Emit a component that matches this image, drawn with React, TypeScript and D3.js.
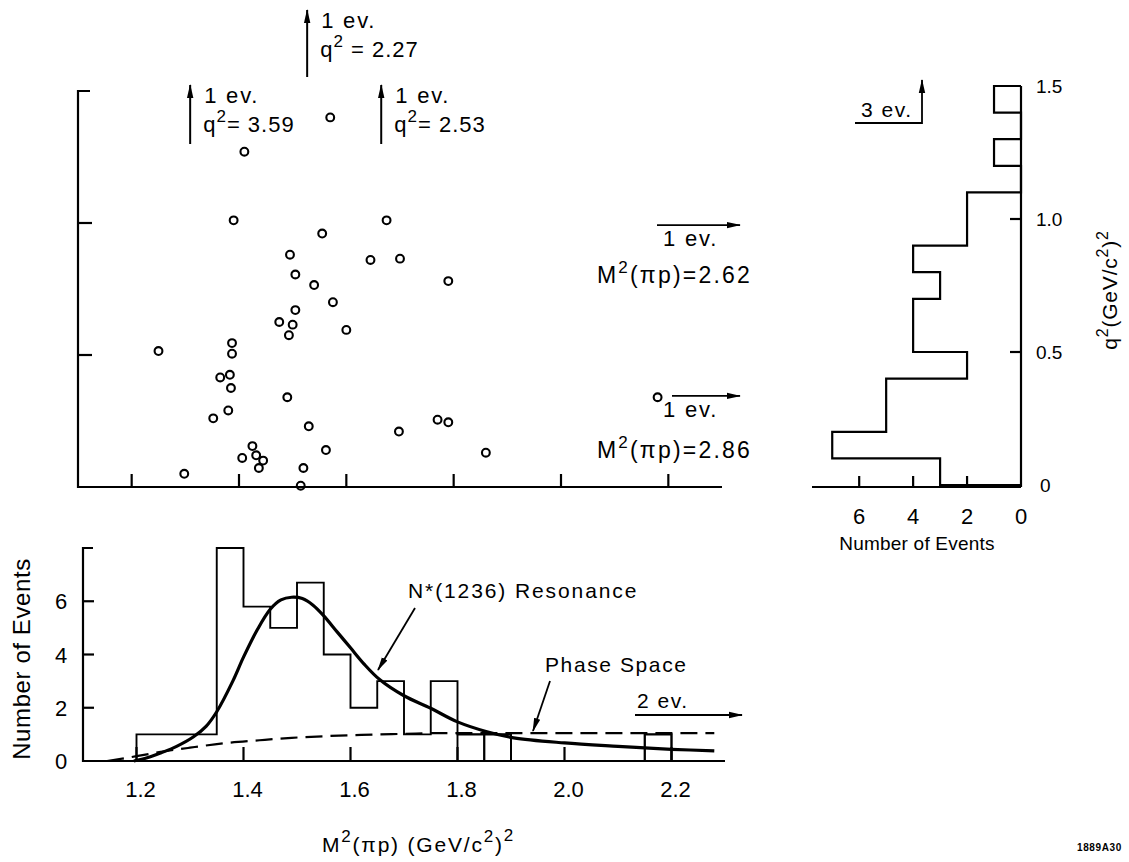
import React from 'react';
import * as d3 from 'd3';

// scatter plot: M^2(pi p) vs q^2, one point per event
const scatterM2 = [1.41, 1.57, 1.39, 1.555, 1.675, 1.495, 1.7, 1.505, 1.645, 1.54, 1.79, 1.575, 1.505, 1.475, 1.5, 1.493, 1.6, 1.25, 1.387, 1.387, 1.383, 1.365, 1.385, 1.49, 1.38, 1.352, 1.53, 1.698, 1.77, 1.79, 1.86, 2.18, 1.425, 1.562, 1.406, 1.432, 1.445, 1.437, 1.52, 1.298, 1.515];
const scatterQ2 = [1.27, 1.4, 1.01, 0.96, 1.01, 0.88, 0.865, 0.805, 0.86, 0.765, 0.78, 0.7, 0.67, 0.625, 0.615, 0.575, 0.595, 0.515, 0.545, 0.505, 0.425, 0.415, 0.375, 0.34, 0.29, 0.26, 0.23, 0.21, 0.255, 0.245, 0.13, 0.34, 0.155, 0.14, 0.11, 0.12, 0.1, 0.072, 0.072, 0.05, 0.005];

// events off the scatter scale (drawn as arrows)
const offTopM2 = [1.309, 1.527, 1.665];
const offTopQ2 = ['3.59', '2.27', '2.53'];
const offRightQ2 = [0.992, 0.345];
const offRightM2 = ['2.62', '2.86'];

// q^2 projection (right histogram)
const q2BinStarts = [0, 0.1, 0.2, 0.3, 0.4, 0.5, 0.6, 0.7, 0.8, 0.9, 1.0, 1.1, 1.2, 1.3, 1.4];
const q2Counts = [3, 7, 5, 5, 2, 4, 4, 3, 4, 2, 2, 0, 1, 0, 1];
const q2Width = 0.1;

// M^2 projection (bottom histogram)
const m2BinStarts = [1.2, 1.25, 1.3, 1.35, 1.4, 1.45, 1.5, 1.55, 1.6, 1.65, 1.7, 1.75, 1.8, 1.85, 1.9, 1.95, 2.0, 2.05, 2.1, 2.15];
const m2Counts = [1, 1, 1, 8, 5.8, 5, 6.7, 4, 2, 3, 1, 3, 1, 1, 0, 0, 0, 0, 0, 1];
const m2Width = 0.05;

// N*(1236) resonance curve
const resM2 = [1.195, 1.22, 1.245, 1.275, 1.306, 1.33, 1.35, 1.38, 1.4, 1.425, 1.45, 1.47, 1.49, 1.51, 1.53, 1.55, 1.575, 1.6, 1.625, 1.655, 1.7, 1.75, 1.8, 1.855, 1.905, 2.0, 2.1, 2.15, 2.2, 2.28];
const resN = [0, 0.12, 0.3, 0.55, 0.9, 1.3, 1.85, 3.0, 3.9, 4.9, 5.7, 6.05, 6.15, 6.1, 5.85, 5.45, 4.85, 4.25, 3.65, 3.05, 2.45, 1.98, 1.47, 1.1, 0.87, 0.68, 0.55, 0.49, 0.44, 0.38];

// phase space curve
const psM2 = [1.145, 1.2, 1.245, 1.3, 1.37, 1.43, 1.49, 1.55, 1.62, 1.7, 1.77, 2.0, 2.28];
const psN = [0, 0.18, 0.34, 0.5, 0.68, 0.78, 0.87, 0.93, 0.98, 1.02, 1.05, 1.05, 1.05];

const m2Ticks = [1.2, 1.4, 1.6, 1.8, 2.0, 2.2];
const m2TickLabels = ['1.2', '1.4', '1.6', '1.8', '2.0', '2.2'];
const q2Ticks = [0.5, 1.0];
const q2Labels = [0, 0.5, 1.0, 1.5];
const nTicks = [2, 4, 6];
const nLabels = [0, 2, 4, 6];

const FONT = "'Liberation Sans', Arial, sans-serif";

export default function App() {
  const xScat = d3.scaleLinear().domain([1.1, 2.3]).range([78, 722]);
  const yScat = d3.scaleLinear().domain([0, 1.5]).range([487, 91]);
  const xHist = d3.scaleLinear().domain([1.1, 2.3]).range([83, 725]);
  const yHist = d3.scaleLinear().domain([0, 8]).range([761, 548]);
  const xProj = d3.scaleLinear().domain([0, 7.75]).range([1021, 812]);
  const yProj = d3.scaleLinear().domain([0, 1.5]).range([485, 86]);

  // step outline of M^2 histogram
  const m2Step: [number, number][] = [];
  m2BinStarts.forEach((s, i) => {
    m2Step.push([s, i === 0 ? 0 : m2Counts[i - 1]]);
    m2Step.push([s, m2Counts[i]]);
  });
  const m2End = m2BinStarts[m2BinStarts.length - 1] + m2Width;
  m2Step.push([m2End, m2Counts[m2Counts.length - 1]]);
  m2Step.push([m2End, 0]);
  const m2Line = d3.line<[number, number]>().x(d => xHist(d[0])).y(d => yHist(d[1]));

  // step outline of q^2 histogram (rotated)
  const q2Step: [number, number][] = [];
  q2BinStarts.forEach((s, i) => {
    q2Step.push([i === 0 ? 0 : q2Counts[i - 1], s]);
    q2Step.push([q2Counts[i], s]);
  });
  const q2End = q2BinStarts[q2BinStarts.length - 1] + q2Width;
  q2Step.push([q2Counts[q2Counts.length - 1], q2End]);
  q2Step.push([0, q2End]);
  const q2Line = d3.line<[number, number]>().x(d => xProj(d[0])).y(d => yProj(d[1]));

  const resPath = d3.line<number>()
    .x((_d, i) => xHist(resM2[i]))
    .y(d => yHist(d))
    .curve(d3.curveCatmullRom.alpha(0.5))(resN);
  const psPath = d3.line<number>()
    .x((_d, i) => xHist(psM2[i]))
    .y(d => yHist(d))
    .curve(d3.curveMonotoneX)(psN);

  const sw = 2.2;

  return (
    <svg width={1129} height={862} style={{ position: 'absolute', left: 0, top: 0, background: '#fff' }} fontFamily={FONT}>
      <defs>
        <marker id="arr" viewBox="0 0 14 8" refX={13} refY={4} markerWidth={14} markerHeight={8} markerUnits="userSpaceOnUse" orient="auto">
          <path d="M0,0.8 L14,4 L0,7.2 Z" fill="#000" />
        </marker>
      </defs>

      {/* ---------- scatter plot ---------- */}
      <g stroke="#000" strokeWidth={sw} fill="none">
        <path d={`M${xScat(1.1) + 12},${yScat(1.5)}H${xScat(1.1)}V${yScat(0)}H${xScat(2.3)}`} />
        {q2Ticks.map(t => (
          <line key={t} x1={xScat(1.1)} x2={xScat(1.1) + 14} y1={yScat(t)} y2={yScat(t)} />
        ))}
        {m2Ticks.map(t => (
          <line key={t} x1={xScat(t)} x2={xScat(t)} y1={yScat(0)} y2={yScat(0) - 13} />
        ))}
      </g>
      <g stroke="#000" strokeWidth={2.1} fill="none">
        {scatterM2.map((m, i) => (
          <circle key={i} cx={xScat(m)} cy={yScat(scatterQ2[i])} r={3.9} />
        ))}
      </g>

      {/* off-scale events above */}
      {offTopM2.map((m, i) => {
        const x = xScat(m);
        const top = i === 1 ? 10 : 85;
        const bottom = i === 1 ? 77 : 144;
        return (
          <g key={i}>
            <line x1={x} x2={x} y1={bottom} y2={top} stroke="#000" strokeWidth={2} markerEnd="url(#arr)" />
            <text x={x + 14} y={top + 18} fontSize={22} letterSpacing={1.8}>1 ev.</text>
            <text x={x + 13} y={top + 47} fontSize={22} letterSpacing={1}>
              q<tspan dy={-10} fontSize={17}>2</tspan>
              <tspan dy={10}>{i === 1 ? ' = ' : '= '}{offTopQ2[i]}</tspan>
            </text>
          </g>
        );
      })}

      {/* off-scale events to the right */}
      {offRightQ2.map((q, i) => {
        const y = yScat(q);
        return (
          <g key={i}>
            <line x1={i === 0 ? 657 : 672} x2={740} y1={y} y2={y} stroke="#000" strokeWidth={1.8} markerEnd="url(#arr)" />
            <text x={663} y={y + 21} fontSize={22} letterSpacing={1.8}>1 ev.</text>
            <text x={597} y={y + (i === 0 ? 58 : 62)} fontSize={23} letterSpacing={2.2}>
              M<tspan dy={-10} fontSize={17}>2</tspan>
              <tspan dy={10}>(πp)={offRightM2[i]}</tspan>
            </text>
          </g>
        );
      })}

      {/* ---------- right q^2 projection ---------- */}
      <g stroke="#000" strokeWidth={sw} fill="none">
        <path d={q2Line(q2Step) || ''} />
        <line x1={xProj(0)} x2={xProj(0)} y1={yProj(0) + 2} y2={yProj(1.5)} />
        <line x1={xProj(7.75)} x2={xProj(0)} y1={yProj(0) + 2} y2={yProj(0) + 2} />
        {nTicks.map(t => (
          <line key={t} x1={xProj(t)} x2={xProj(t)} y1={yProj(0) + 2} y2={yProj(0) - 9} />
        ))}
        {q2Ticks.map(t => (
          <line key={t} x1={xProj(0)} x2={xProj(0) - 11} y1={yProj(t)} y2={yProj(t)} />
        ))}
        <path d="M855,123H922V80" strokeWidth={1.8} markerEnd="url(#arr)" />
      </g>
      <text x={861} y={117} fontSize={21} letterSpacing={1.5}>3 ev.</text>
      {q2Labels.map(v => (
        <text key={v} x={v === 0 ? 1040 : 1036} y={yProj(v) + 7} fontSize={19}>
          {v === 0 ? '0' : v.toFixed(1)}
        </text>
      ))}
      {nLabels.map(v => (
        <text key={v} x={xProj(v)} y={524} fontSize={22} textAnchor="middle">{v}</text>
      ))}
      <text x={917} y={550} fontSize={19} textAnchor="middle" letterSpacing={0.2}>Number of Events</text>
      <text transform="translate(1117,290) rotate(-90)" fontSize={21} textAnchor="middle" letterSpacing={0.8}>
        q<tspan dy={-9} fontSize={16}>2</tspan>
        <tspan dy={9}>(GeV/c</tspan>
        <tspan dy={-9} fontSize={16}>2</tspan>
        <tspan dy={9}>)</tspan>
        <tspan dy={-9} fontSize={16}>2</tspan>
      </text>

      {/* ---------- bottom M^2 projection ---------- */}
      <g stroke="#000" strokeWidth={sw} fill="none">
        <path d={`M${xHist(1.1) + 10},${yHist(8)}H${xHist(1.1)}V${yHist(0)}H${xHist(2.3)}`} />
        {nTicks.map(t => (
          <line key={t} x1={xHist(1.1)} x2={xHist(1.1) + 11} y1={yHist(t)} y2={yHist(t)} />
        ))}
        {m2Ticks.map(t => (
          <line key={t} x1={xHist(t)} x2={xHist(t)} y1={yHist(0)} y2={yHist(0) - 14} />
        ))}
        <path d={m2Line(m2Step) || ''} strokeWidth={1.9} />
        {m2BinStarts.map((s, i) =>
          s >= 1.795 && m2Counts[i] > 0 ? (
            <rect key={s} x={xHist(s)} y={yHist(m2Counts[i])} width={xHist(s + m2Width) - xHist(s)} height={yHist(0) - yHist(m2Counts[i])} strokeWidth={1.9} />
          ) : null
        )}
        <path d={psPath || ''} strokeWidth={2.2} strokeDasharray="17 8" />
        <path d={resPath || ''} strokeWidth={3.2} />
        <line x1={415} y1={608} x2={378} y2={670} strokeWidth={1.8} markerEnd="url(#arr)" />
        <line x1={550} y1={681} x2={533} y2={731} strokeWidth={1.8} markerEnd="url(#arr)" />
        <line x1={635} y1={715} x2={742} y2={715} strokeWidth={1.8} markerEnd="url(#arr)" />
      </g>
      {nLabels.map(v => (
        <text key={v} x={61} y={yHist(v) + 8} fontSize={22} textAnchor="middle">{v}</text>
      ))}
      {m2Ticks.map((t, i) => (
        <text key={t} x={xHist(t) + 4} y={797} fontSize={22} textAnchor="middle">{m2TickLabels[i]}</text>
      ))}
      <text transform="translate(30,659) rotate(-90)" fontSize={24} textAnchor="middle" letterSpacing={0.6}>Number of Events</text>
      <text x={408} y={598} fontSize={21} letterSpacing={1.9}>N*(1236) Resonance</text>
      <text x={545} y={672} fontSize={21} letterSpacing={1.6}>Phase Space</text>
      <text x={637} y={708} fontSize={21} letterSpacing={1.5}>2 ev.</text>
      <text x={322} y={852} fontSize={21} letterSpacing={1.8}>
        M<tspan dy={-10} fontSize={17}>2</tspan>
        <tspan dy={10}>(πp)  (GeV/c</tspan>
        <tspan dy={-10} fontSize={17}>2</tspan>
        <tspan dy={10}>)</tspan>
        <tspan dy={-11} fontSize={17}>2</tspan>
      </text>

      <text x={1077} y={851} fontSize={10} fontWeight="bold" letterSpacing={0.6}>1889A30</text>
    </svg>
  );
}
